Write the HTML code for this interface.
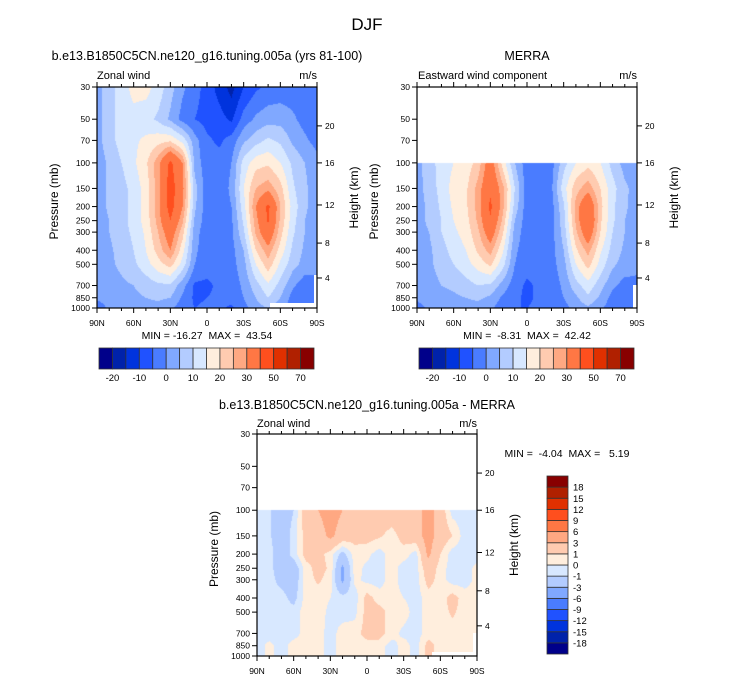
<!DOCTYPE html>
<html><head><meta charset="utf-8">
<style>
html,body{margin:0;padding:0;background:#fff;}
#root{position:relative;width:733px;height:680px;overflow:hidden;background:#fff;font-family:"Liberation Sans",sans-serif;}
canvas{position:absolute;}
svg{position:absolute;left:0;top:0;}
text{font-family:"Liberation Sans",sans-serif;fill:#000;white-space:pre;}
</style></head>
<body>
<div id="root">
<canvas id="cA" width="220" height="221" style="left:97px;top:87px"></canvas>
<canvas id="cB" width="220" height="221" style="left:417px;top:87px"></canvas>
<canvas id="cC" width="220" height="222" style="left:257px;top:434px"></canvas>
<svg id="ov" width="733" height="680">
<text x="367" y="30" font-size="17" text-anchor="middle">DJF</text>
<text x="207" y="60" font-size="12.5" text-anchor="middle">b.e13.B1850C5CN.ne120_g16.tuning.005a (yrs 81-100)</text>
<text x="527" y="60" font-size="12.5" text-anchor="middle">MERRA</text>
<text x="367" y="409" font-size="12.5" text-anchor="middle">b.e13.B1850C5CN.ne120_g16.tuning.005a - MERRA</text>
<text x="97" y="79" font-size="11">Zonal wind</text>
<text x="317" y="79" font-size="11" text-anchor="end">m/s</text>
<text x="418" y="79" font-size="11">Eastward wind component</text>
<text x="637" y="79" font-size="11" text-anchor="end">m/s</text>
<text x="257" y="427" font-size="11">Zonal wind</text>
<text x="477" y="427" font-size="11" text-anchor="end">m/s</text>
<text x="207" y="339" font-size="10.5" text-anchor="middle">MIN = -16.27  MAX =  43.54</text>
<text x="527" y="339" font-size="10.5" text-anchor="middle">MIN =  -8.31  MAX =  42.42</text>
<text x="567" y="457" font-size="10.5" text-anchor="middle">MIN =  -4.04  MAX =   5.19</text>
</svg>
</div>
<script>
const lats = [90,80,70,60,50,40,30,20,10,0,-10,-20,-30,-40,-50,-60,-70,-80,-90];
const latTickValues = [90,60,30,0,-30,-60,-90];
const latTickLabels = ['90N','60N','30N','0','30S','60S','90S'];
const presTicks = [30,50,70,100,150,200,250,300,400,500,700,850,1000];
const heightTickLabels = [4,8,12,16,20];
const heightTickPres = [621,357,195,100,55.6];
const pModel = [30,50,70,100,150,200,250,300,400,500,700,850,1000];
const pObs = [100,150,200,250,300,400,500,700,850,1000];
const levelsU = [-20,-15,-10,-5,0,5,10,15,20,25,30,40,50,60,70];
const levelsDiff = [-18,-15,-12,-9,-6,-3,-1,0,1,3,6,9,12,15,18];
const colors = ['#00008a','#0022aa','#0033dd','#2052ff','#4a7cff','#80a8ff','#b3ccff','#d8e8ff','#ffeedd','#ffcbb0','#ffa882','#ff7744','#ff4f1e','#e03000','#b02000','#880000'];

const modelU = [
[3,8,12,17,17,13,7,1,-3,-7,-12,-17,-10,-6,-4,-3,-3,-3,-3],
[3,8,12,13,12,9,4,-2,-5,-7,-8,-11,-3,1,3,3,1,-2,-3],
[3,8,12,14,16,18,19,13,2,-4,-6,-3,4,8,11,9,4,1,-2],
[2,6,10,14,19,28,42,30,3,-3,-3,0,12,18,19,15,9,5,2],
[2,6,8,12,17,28,45,32,7,-3,-3,1,15,25,28,22,11,6,2],
[2,6,8,12,17,28,44,30,6,-3,-3,0,13,30,42,25,13,6,2],
[2,5,8,12,17,27,40,26,4,-3,-3,-1,11,28,41,24,12,5,2],
[2,5,8,11,16,25,35,22,2,-3,-3,-1,9,26,37,22,11,5,2],
[2,4,7,10,15,22,30,17,1,-3,-3,-2,5,20,28,18,9,4,2],
[2,4,6,9,13,18,22,13,0,-3,-3,-2,3,15,23,14,7,3,1],
[2,3,4,5,7,9,9,2,-6,-6,-4,-3,1,8,14,8,1,-3,-1],
[1,2,3,4,5,6,5,-1,-6,-5,-4,-3,0,5,10,5,-2,-5,-2],
[-3,1,2,3,3,3,1,-3,-5,-4,-4,-6,-2,3,5,2,-3,-5,-2]
];
const merraU = [
[3,8,12,15,17,22,35,18,5,-3,-3,-2,8,15,18,15,8,3,2],
[3,7,12,17,19,27,38,27,10,-3,-3,-1,13,23,28,20,12,6,3],
[3,6,11,16,19,27,42,27,8,-3,-3,-2,9,27,38,22,11,6,2],
[3,6,10,15,18,26,39,24,5,-3,-3,-2,8,26,40,21,11,5,2],
[3,5,10,14,17,24,35,21,3,-3,-3,-2,7,24,36,20,10,5,2],
[2,4,8,12,15,21,27,16,1,-3,-3,-2,5,19,27,16,8,4,2],
[2,4,7,10,13,17,21,12,0,-3,-3,-2,3,15,22,13,6,3,1],
[2,3,5,6,8,10,9,3,-3,-6,-4,-3,1,8,13,7,1,-2,-1],
[1,2,3,4,5,6,4,-1,-4,-6,-4,-3,0,4,9,4,-2,-5,-3],
[-2,1,2,3,3,3,1,-3,-5,-5,-4,-5,-2,2,4,1,-3,-5,-2]
];
const diffU = [
[-0.5,-0.8,-2,-1,2,3,4,3,2,2,2,2,2,2,4,2,-0.5,-0.5,-0.5],
[-0.5,-0.8,-2,-0.5,1.5,2,3.5,2,1.5,1.5,1.2,0.5,1.5,2,4,2,1,-0.5,-0.5],
[-0.5,-0.5,-2,-0.5,1.5,1.5,0.5,-1.5,0.5,0.3,-0.5,0.5,0.5,-0.5,3.5,1,-0.5,-0.5,-0.5],
[-0.5,-0.5,-2,-2,0.5,1.5,0.8,-3.5,0.5,-0.3,-0.5,0.5,-0.5,-0.5,2,0.5,-0.5,-0.5,0.3],
[-0.5,-0.5,-1.5,-2,0.5,1.2,0.5,-3.5,0.3,-0.3,-0.5,0.5,-0.5,-0.5,1.5,0.5,-0.5,-0.5,0.3],
[-0.5,-0.5,-0.5,-1.5,0.5,0.5,0,-0.5,-0.5,1.5,0.5,0.5,0,-0.5,0.5,0.5,1.5,0.5,0.5],
[-0.5,-0.5,-0.5,-0.5,0.5,0.5,-0.3,-0.5,-0.3,1.5,1.5,0.5,0.5,-0.5,0.5,0.5,1.2,0.5,0.5],
[-0.5,-0.5,-0.5,-0.5,0.5,0.5,-0.5,0.5,0.5,1.5,1.5,0.5,-0.3,-0.5,0.5,0.5,0.5,0.5,0.5],
[-0.5,0.3,-0.5,0.5,0.5,0.5,-0.5,0.5,0.5,0.5,0.5,-0.5,0.5,-0.5,1.5,0.5,0.5,0.5,0.5],
[-0.5,0.3,-0.5,0.5,0.5,0.5,-0.5,0.5,0.5,0.5,0.5,-0.5,0.5,-0.5,1.5,0.5,0.5,0.5,0.5]
];

const NS = 'http://www.w3.org/2000/svg';
const ov = document.getElementById('ov');
const LN = Math.log(1000/30);
function el(tag, attrs, parent){
  const e = document.createElementNS(NS, tag);
  for (const k in attrs) e.setAttribute(k, attrs[k]);
  (parent||ov).appendChild(e);
  return e;
}
function hexRGB(h){return [parseInt(h.substr(1,2),16),parseInt(h.substr(3,2),16),parseInt(h.substr(5,2),16)];}
function colorIndex(v, levels){let i=0; while(i<levels.length && v>=levels[i]) i++; return i;}

function renderField(canvasId, grid, pRows, levels){
  const cv = document.getElementById(canvasId);
  const W = cv.width, H = cv.height;
  const ctx = cv.getContext('2d');
  const img = ctx.createImageData(W,H);
  const rgb = colors.map(hexRGB);
  const lnP = pRows.map(p=>Math.log(p));
  for (let py=0; py<H; py++){
    const p = 30*Math.exp((py+0.5)/H*LN);
    if (p < pRows[0]-0.01) continue;
    const lp = Math.log(p);
    let k = 0; while (k < pRows.length-2 && lp > lnP[k+1]) k++;
    let t = (lp-lnP[k])/(lnP[k+1]-lnP[k]); t=Math.max(0,Math.min(1,t));
    for (let px=0; px<W; px++){
      const f = (px+0.5)/W*(lats.length-1);
      let i = Math.min(Math.floor(f), lats.length-2); const s = f-i;
      const v = (1-t)*((1-s)*grid[k][i]+s*grid[k][i+1]) + t*((1-s)*grid[k+1][i]+s*grid[k+1][i+1]);
      const c = rgb[colorIndex(v, levels)];
      const o = (py*W+px)*4;
      img.data[o]=c[0]; img.data[o+1]=c[1]; img.data[o+2]=c[2]; img.data[o+3]=255;
    }
  }
  ctx.putImageData(img,0,0);
}

function drawAxes(x0, y0, W, H, prefix, showX, masks){
  const xOf = lat => x0 + (90-lat)/180*W;
  const yOf = p => y0 + Math.log(p/30)/LN*H;
  masks.forEach(m=>{
    const r = el('rect',{x:m[0],y:m[1],width:m[2],height:m[3],fill:'#fff'});
    
    
  });
  const frame = el('rect',{x:x0,y:y0,width:W,height:H,fill:'none',stroke:'#000','stroke-width':1.2});
  
  
  for (let lat=90; lat>=-90; lat-=10){
    const major = lat%30===0; const len = major?5:3; const x = xOf(lat);
    const tb = el('line',{x1:x,y1:y0+H,x2:x,y2:y0+H+len,stroke:'#000','stroke-width':1});
    
    
    const tt = el('line',{x1:x,y1:y0,x2:x,y2:y0-len,stroke:'#000','stroke-width':1});
    
    
  }
  latTickValues.forEach((lat,i)=>{
    const t = el('text',{x:xOf(lat),y:y0+H+18,'font-size':8.5,'text-anchor':'middle'});
    t.textContent = latTickLabels[i];
    
    
  });
  presTicks.forEach(p=>{
    const y = yOf(p);
    const l = el('line',{x1:x0,y1:y,x2:x0-5,y2:y,stroke:'#000','stroke-width':1});
    
    
    const t = el('text',{x:x0-7,y:y+3,'font-size':8.5,'text-anchor':'end'});
    t.textContent = String(p);
    
    
  });
  heightTickPres.forEach((p,i)=>{
    const y = yOf(p);
    const l = el('line',{x1:x0+W,y1:y,x2:x0+W+5,y2:y,stroke:'#000','stroke-width':1});
    
    
    const t = el('text',{x:x0+W+8,y:y+3,'font-size':8.5});
    t.textContent = String(heightTickLabels[i]);
    
    
  });
  const cy = y0+H/2;
  const yl = el('text',{x:x0-43,y:cy,'font-size':12,'text-anchor':'middle',transform:`rotate(-90 ${x0-39} ${cy})`});
  yl.textContent = 'Pressure (mb)';
  
  
  const hx = x0+W+37;
  const hl = el('text',{x:hx,y:cy+4,'font-size':12,'text-anchor':'middle',transform:`rotate(-90 ${hx} ${cy})`});
  hl.textContent = 'Height (km)';
  
  
}

function hColorbar(x0,y0,W,H,prefix){
  const bw = W/colors.length;
  colors.forEach((c,i)=>{
    const r = el('rect',{x:x0+i*bw,y:y0,width:bw,height:H,fill:c,stroke:'#333','stroke-width':0.8});
    
    
  });
  levelsU.forEach((lv,i)=>{
    if (i%2!==0) return;
    const t = el('text',{x:x0+(i+1)*bw,y:y0+H+12,'font-size':9.5,'text-anchor':'middle'});
    t.textContent = String(lv);
    
    
  });
}
function vColorbar(x0,y0,W,H,prefix){
  const bh = H/colors.length;
  colors.forEach((c,i)=>{
    const r = el('rect',{x:x0,y:y0+H-(i+1)*bh,width:W,height:bh,fill:c,stroke:'#333','stroke-width':0.8});
    
    
  });
  levelsDiff.forEach((lv,i)=>{
    const t = el('text',{x:x0+W+5,y:y0+H-(i+1)*bh+3.5,'font-size':9.5});
    t.textContent = String(lv);
    
    
  });
}

renderField('cA', modelU, pModel, levelsU);
renderField('cB', merraU, pObs, levelsU);
renderField('cC', diffU, pObs, levelsDiff);
drawAxes(97,87,220,221,'model',true,[[270,303,47,6],[314,275,3,33]]);
drawAxes(417,87,220,221,'merra',true,[[633,285,5,23]]);
drawAxes(257,434,220,222,'diff',true,[[432,652,45,4],[473,633,4,23]]);
hColorbar(99,348,215,21,'model');
hColorbar(419,348,215,21,'merra');
vColorbar(547,476,21,178,'diff');
</script>
</body></html>
